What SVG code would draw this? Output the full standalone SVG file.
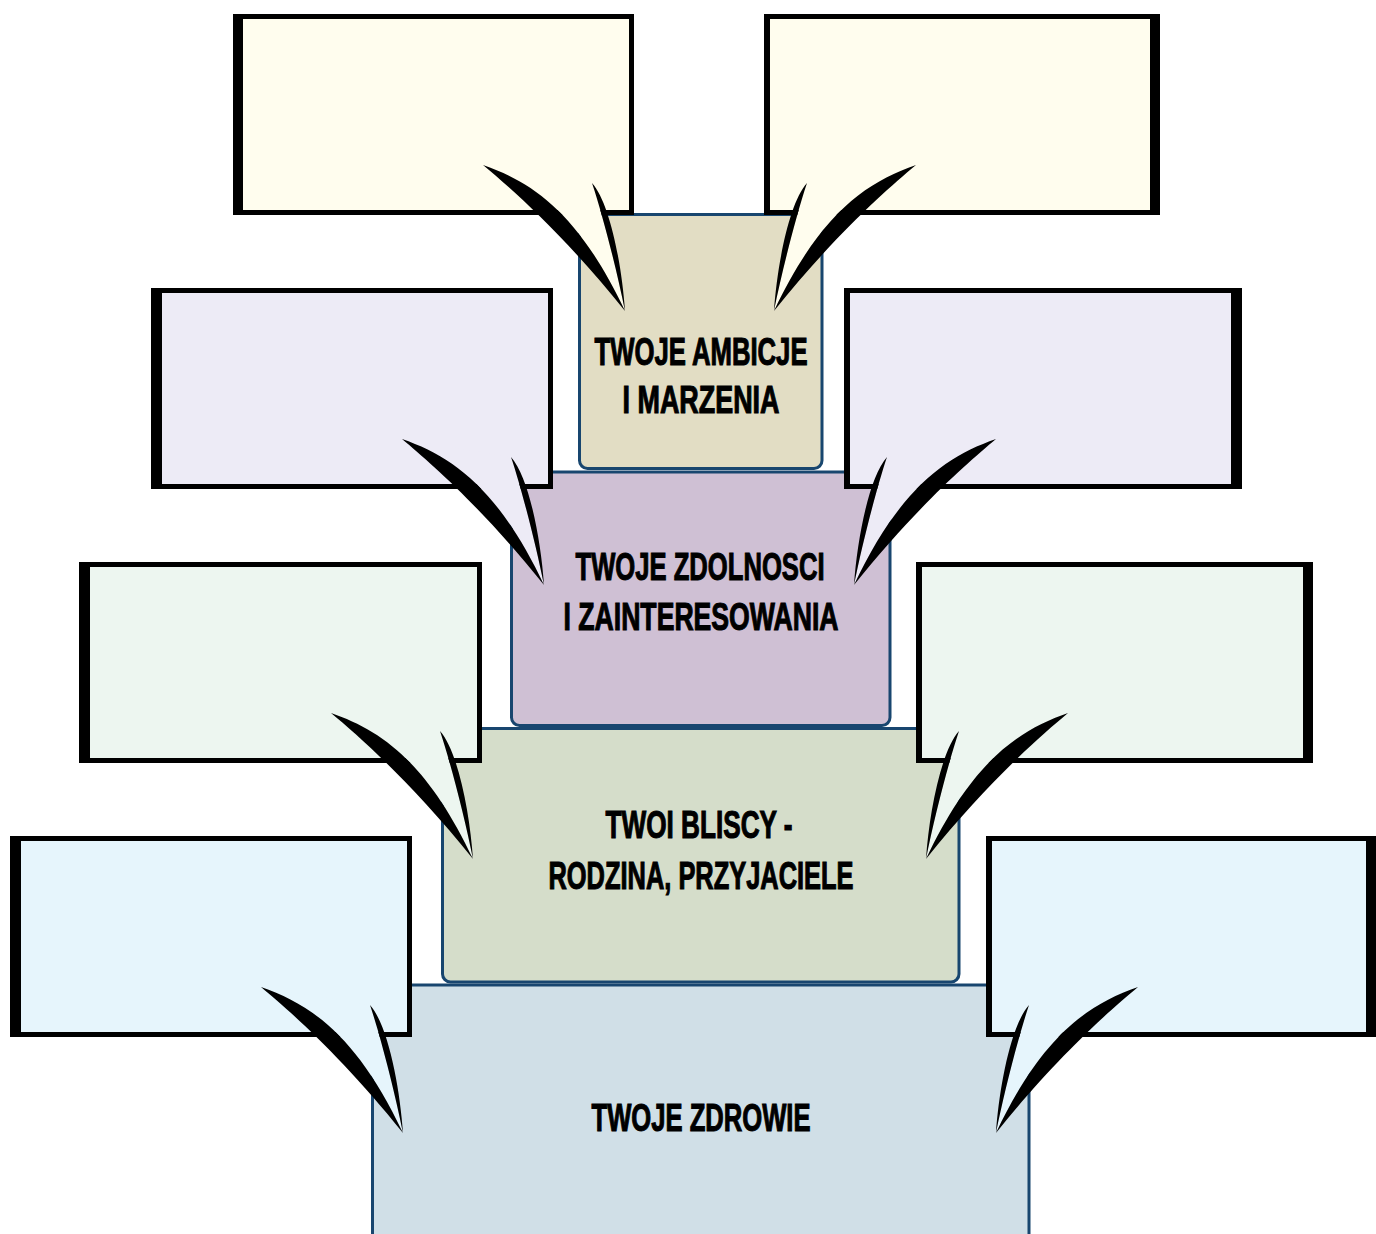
<svg xmlns="http://www.w3.org/2000/svg" xmlns:xlink="http://www.w3.org/1999/xlink" width="1376" height="1234" viewBox="0 0 1376 1234">
<style>
.ctr{stroke:#18466F;stroke-width:3}
.lbl{font-family:"Liberation Sans",Arial,sans-serif;font-weight:bold;font-size:38px;fill:#000;stroke:#000;stroke-width:1.1px;text-anchor:middle}
.bk{fill:#000}
</style>
<defs>
<g id="tail">
<path d="M -142,-146 C -90,-128 -45,-95 0,0 C -8,-40 -22,-95 -33,-128 Z"/>
<path fill="#000" d="M -142,-146 C -90,-128 -45,-95 0,0 C -60,-75 -112,-121 -142,-146 Z"/>
<path fill="#000" d="M -33,-128 C -22,-95 -8,-40 0,0 C -3,-45 -15,-108 -33,-128 Z"/>
</g>
</defs>
<rect width="1376" height="1234" fill="#fff"/>

<g id="center-zdrowie">
<rect class="ctr" x="372.5" y="985" width="656.5" height="280" rx="8" fill="#D0DFE7"/>
<text class="lbl" x="701" y="1131" textLength="219" lengthAdjust="spacingAndGlyphs">TWOJE ZDROWIE</text>
</g>
<g id="center-bliscy">
<rect class="ctr" x="442.5" y="728.5" width="516.5" height="253.5" rx="8" fill="#D5DDCA"/>
<text class="lbl" x="699" y="838" textLength="187" lengthAdjust="spacingAndGlyphs">TWOI BLISCY -</text>
<text class="lbl" x="701" y="889" textLength="305" lengthAdjust="spacingAndGlyphs">RODZINA, PRZYJACIELE</text>
</g>
<g id="center-zdolnosci">
<rect class="ctr" x="511.5" y="472" width="378.5" height="253.5" rx="8" fill="#CFC0D4"/>
<text class="lbl" x="700" y="580" textLength="249" lengthAdjust="spacingAndGlyphs">TWOJE ZDOLNOSCI</text>
<text class="lbl" x="701" y="630" textLength="275" lengthAdjust="spacingAndGlyphs">I ZAINTERESOWANIA</text>
</g>
<g id="center-ambicje">
<rect class="ctr" x="579.5" y="214.5" width="242.5" height="254" rx="8" fill="#E2DDC4"/>
<text class="lbl" x="701" y="365" textLength="213" lengthAdjust="spacingAndGlyphs">TWOJE AMBICJE</text>
<text class="lbl" x="701" y="413" textLength="157" lengthAdjust="spacingAndGlyphs">I MARZENIA</text>
</g>

<g id="callout-1-left">
<rect class="bk" x="233" y="14" width="401" height="201"/>
<rect x="243" y="19" width="386" height="191" fill="#FFFDEE"/>
<use xlink:href="#tail" href="#tail" transform="translate(625,311)" fill="#FFFDEE"/>
</g>
<g id="callout-1-right">
<rect class="bk" x="764" y="14" width="396" height="201"/>
<rect x="770" y="19" width="380" height="191" fill="#FFFDEE"/>
<use xlink:href="#tail" href="#tail" transform="translate(774,311) scale(-1,1)" fill="#FFFDEE"/>
</g>
<g id="callout-2-left">
<rect class="bk" x="151" y="288" width="402" height="201"/>
<rect x="162" y="293" width="386" height="191" fill="#EDEBF6"/>
<use xlink:href="#tail" href="#tail" transform="translate(544,585)" fill="#EDEBF6"/>
</g>
<g id="callout-2-right">
<rect class="bk" x="844" y="288" width="398" height="201"/>
<rect x="850" y="293" width="381" height="191" fill="#EDEBF6"/>
<use xlink:href="#tail" href="#tail" transform="translate(854,585) scale(-1,1)" fill="#EDEBF6"/>
</g>
<g id="callout-3-left">
<rect class="bk" x="79" y="562" width="403" height="201"/>
<rect x="90" y="567" width="387" height="191" fill="#EDF6F0"/>
<use xlink:href="#tail" href="#tail" transform="translate(473,859)" fill="#EDF6F0"/>
</g>
<g id="callout-3-right">
<rect class="bk" x="916" y="562" width="397" height="201"/>
<rect x="922" y="567" width="381" height="191" fill="#EDF6F0"/>
<use xlink:href="#tail" href="#tail" transform="translate(926,859) scale(-1,1)" fill="#EDF6F0"/>
</g>
<g id="callout-4-left">
<rect class="bk" x="10" y="836" width="402" height="201"/>
<rect x="21" y="841" width="386" height="191" fill="#E6F5FC"/>
<use xlink:href="#tail" href="#tail" transform="translate(403,1133)" fill="#E6F5FC"/>
</g>
<g id="callout-4-right">
<rect class="bk" x="986" y="836" width="390" height="201"/>
<rect x="992" y="841" width="374" height="191" fill="#E6F5FC"/>
<use xlink:href="#tail" href="#tail" transform="translate(996,1133) scale(-1,1)" fill="#E6F5FC"/>
</g>
</svg>
